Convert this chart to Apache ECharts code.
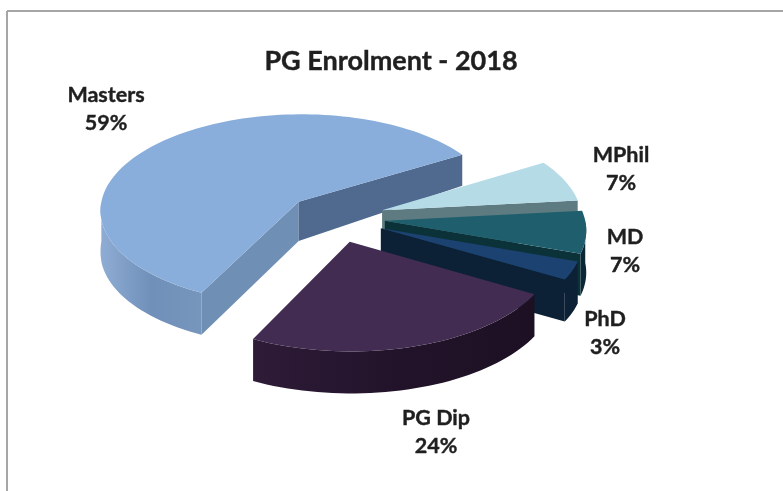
<!DOCTYPE html>
<html>
<head>
<meta charset="utf-8">
<style>
  html, body { margin: 0; padding: 0; background: #fff; }
  #chart { width: 783px; height: 491px; }
</style>
<script src="https://cdn.jsdelivr.net/npm/echarts@6/dist/echarts.min.js"></script>
</head>
<body>
<div id="chart"></div>
<script>
// clockwise from the front-left cut
const categories = ['Masters', 'MPhil', 'MD', 'PhD', 'PG Dip'];
const shares = [59, 7, 7, 3, 24];

const topColors = ['#8aaedb', '#b5dbe7', '#1f5f6d', '#1c4272', '#422c52'];
const rimColors = [['#8fadd4', '#7090ba', '#7696bc'], ['#5f7b82', '#5f7b82', '#5f7b82'], ['#0a2833', '#0a2833', '#0a2833'], ['#0c2036', '#0c2036', '#0c2036'], ['#2e1b38', '#22132a', '#1d1023']];
const startFaceColors = ['#6f8fb4', '#5f7b82', '#0d3a42', '#0c2036', '#22132a'];
const endFaceColors = ['#4f6a8e', '#5f7b82', '#0b3239', '#0c2036', '#22132a'];
const labelPos = {
  Masters: [106, 95],
  MPhil: [621, 155],
  MD: [625, 237],
  PhD: [605, 319],
  'PG Dip': [436, 418]
};

// tilted pie layout, worked out from the picture
const cx = 335, cy = 218, rx = 200, ry = 97;
const explode = 0.25, persp = 0.08, startDeg = 116.4;

const total = shares.reduce((a, b) => a + b, 0);
const rad = (d) => (d * Math.PI) / 180;

function project(X, Y) {
  const s = 1 / (1 - persp * Y);
  return [cx + rx * X * s, cy + ry * Y * s];
}
function drop(p, Y) {
  return [p[0], p[1] + 42 + 16 * Math.min(Y, 0)];
}

function arcPoints(ox, oy, a0, a1) {
  const pts = [];
  const n = Math.max(2, Math.ceil(Math.abs(a1 - a0) / 2));
  for (let i = 0; i <= n; i++) {
    const a = rad(a0 + ((a1 - a0) * i) / n);
    pts.push({ X: ox + Math.cos(a), Y: oy + Math.sin(a) });
  }
  return pts;
}
function wall(a, b) {
  // quad from a top edge down to the bottom plane
  const list = a.concat(b);
  const top = list.map((q) => project(q.X, q.Y));
  const bottom = list.map((q, i) => drop(top[i], q.Y)).reverse();
  return top.concat(bottom);
}

let acc = startDeg;
const slices = shares.map((v) => {
  const a0 = acc;
  const a1 = acc + (v / total) * 360;
  acc = a1;
  return { a0, a1 };
});

function renderSlice(params, api) {
  const i = params.dataIndex;
  const { a0, a1 } = slices[i];
  const mid = rad((a0 + a1) / 2);
  const ox = explode * Math.cos(mid);
  const oy = explode * Math.sin(mid);
  const apex = { X: ox, Y: oy };
  const arc = arcPoints(ox, oy, a0, a1);
  const children = [];

  // outer rim, only the part that faces the viewer
  const wrap = a1 > 360 ? 360 : 0;
  const from = Math.max(a0 - wrap, 0);
  const to = Math.min(a1 - wrap, 180);
  if (to > from) {
    const rim = rimColors[i];
    children.push({
      type: 'polygon',
      shape: { points: wall(arcPoints(ox, oy, from, to), []) },
      style: {
        fill: new echarts.graphic.LinearGradient(1, 0, 0, 0, [
          { offset: 0, color: rim[2] },
          { offset: 0.5, color: rim[1] },
          { offset: 1, color: rim[0] }
        ])
      }
    });
  }
  // cut faces
  if (Math.sin(rad(a0 - 90)) > 0) {
    children.push({
      type: 'polygon',
      shape: { points: wall([apex], [arc[0]]) },
      style: { fill: startFaceColors[i] }
    });
  }
  if (Math.sin(rad(a1 + 90)) > 0) {
    children.push({
      type: 'polygon',
      shape: { points: wall([apex], [arc[arc.length - 1]]) },
      style: { fill: endFaceColors[i] }
    });
  }
  // top
  children.push({
    type: 'polygon',
    shape: { points: [apex].concat(arc).map((q) => project(q.X, q.Y)) },
    style: { fill: topColors[i] }
  });
  return { type: 'group', children };
}

const labelFont = { fontFamily: 'Lato', fontWeight: 'bold', fontSize: 21.5, fill: '#1f1f1f', stroke: '#1f1f1f', lineWidth: 0.4, textAlign: 'center', textVerticalAlign: 'middle' };
const labels = [];
categories.forEach((name, i) => {
  const p = labelPos[name];
  labels.push({ type: 'text', x: p[0], y: p[1], style: { ...labelFont, text: name } });
  labels.push({ type: 'text', x: p[0], y: p[1] + 28, style: { ...labelFont, text: shares[i] + '%' } });
});

const chart = echarts.init(document.getElementById('chart'));
chart.setOption({
  animation: false,
  backgroundColor: '#fff',
  title: {
    text: 'PG Enrolment - 2018',
    left: 386,
    top: 43,
    textAlign: 'center',
    textStyle: { fontFamily: 'Lato', fontWeight: 'bold', fontSize: 27, color: '#1f1f1f', textBorderColor: '#1f1f1f', textBorderWidth: 0.4 }
  },
  graphic: [
    { type: 'line', shape: { x1: 7, y1: 11, x2: 783, y2: 11 }, style: { stroke: '#a6a6a6', lineWidth: 2 } },
    { type: 'line', shape: { x1: 7, y1: 11, x2: 7, y2: 491 }, style: { stroke: '#a6a6a6', lineWidth: 2 } }
  ].concat(labels),
  series: [
    {
      type: 'custom',
      coordinateSystem: 'none',
      silent: true,
      renderItem: renderSlice,
      data: shares
    }
  ]
});
</script>
</body>
</html>
